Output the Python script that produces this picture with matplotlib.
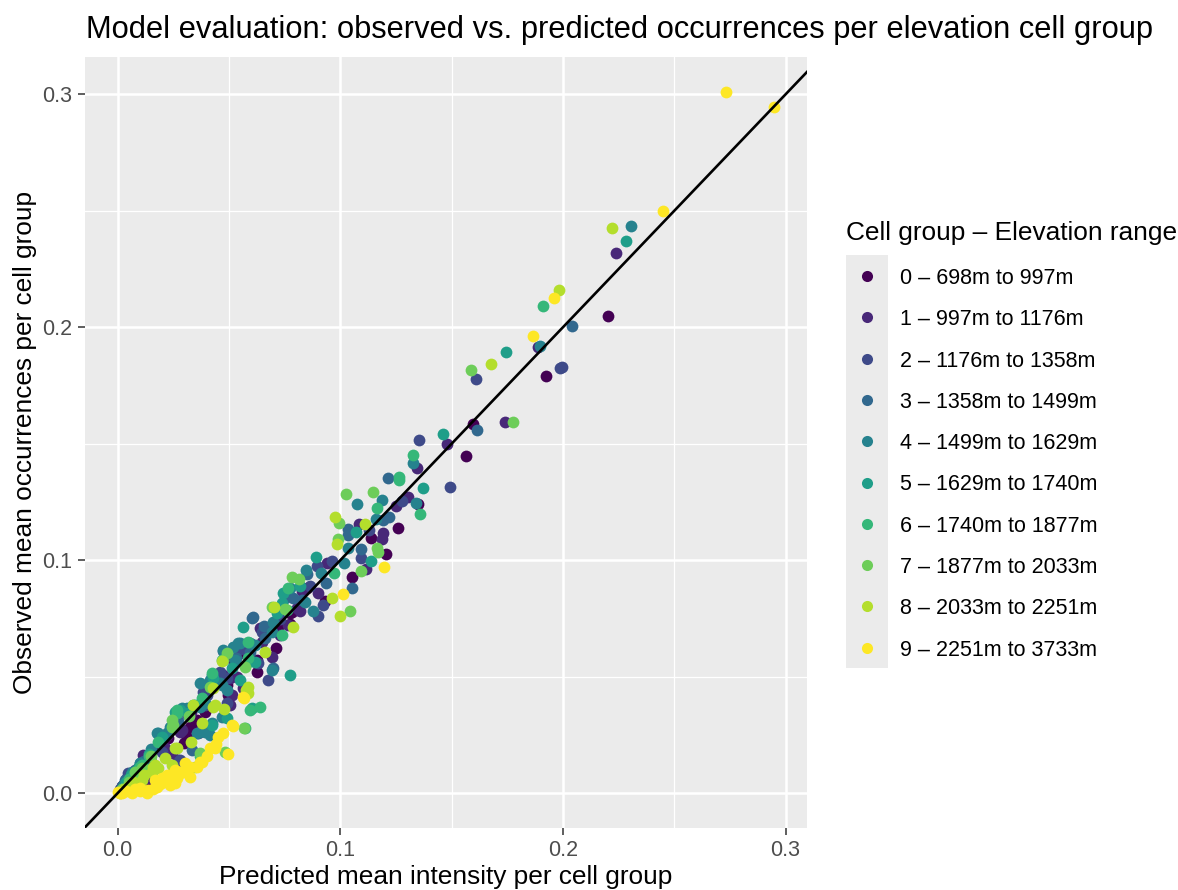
import numpy as np
import matplotlib
matplotlib.use("Agg")
import matplotlib.pyplot as plt
from matplotlib.patches import Rectangle

plt.rcParams['font.family'] = ['Liberation Sans', 'DejaVu Sans']

# observed vs predicted, one pair of lists per elevation group
g0_x = [0.2204, 0.1923, 0.1598, 0.1565, 0.1351, 0.1260, 0.1140, 0.1206, 0.1052, 0.0932,
        0.0782, 0.0775, 0.0722, 0.0712, 0.0628, 0.0625, 0.0490, 0.0438, 0.0340, 0.0311,
        0.0311, 0.0348, 0.0228, 0.0146, 0.0138, 0.0041, 0.0146, 0.0034, 0.0010, 0.0020,
        0.0060, 0.0090, 0.0170, 0.0260, 0.0390, 0.0550, 0.0660, 0.0850, 0.0775, 0.0445,
        0.0498, 0.0393, 0.0326, 0.0356, 0.0300, 0.0041, 0.0030, 0.0080, 0.0120]
g0_y = [0.2050, 0.1792, 0.1585, 0.1446, 0.1242, 0.1140, 0.1094, 0.1026, 0.0930, 0.0825,
        0.0779, 0.0773, 0.0715, 0.0622, 0.0522, 0.0572, 0.0465, 0.0508, 0.0286, 0.0243,
        0.0221, 0.0300, 0.0236, 0.0150, 0.0057, 0.0036, 0.0143, 0.0043, 0.0010, 0.0030,
        0.0070, 0.0100, 0.0190, 0.0280, 0.0430, 0.0600, 0.0690, 0.0880, 0.0725, 0.0500,
        0.0422, 0.0350, 0.0286, 0.0315, 0.0215, 0.0050, 0.0040, 0.0090, 0.0130]

g1_x = [0.2237, 0.1887, 0.1739, 0.1478, 0.1346, 0.1252, 0.1304, 0.1086, 0.1194, 0.1189,
        0.1116, 0.0902, 0.0819, 0.0640, 0.0767, 0.0730, 0.0692, 0.0475, 0.0535, 0.0513,
        0.0505, 0.0520, 0.0221, 0.0071, 0.0116, 0.0243, 0.0281, 0.0213, 0.0138, 0.0273,
        0.0020, 0.0040, 0.0110, 0.0330, 0.0420, 0.0600, 0.0830, 0.0940, 0.0805, 0.0648,
        0.0505, 0.0565, 0.0290, 0.0060, 0.0090]
g1_y = [0.2318, 0.1914, 0.1592, 0.1499, 0.1395, 0.1233, 0.1273, 0.1156, 0.1116, 0.1090,
        0.0961, 0.0858, 0.0784, 0.0708, 0.0722, 0.0679, 0.0586, 0.0508, 0.0500, 0.0422,
        0.0379, 0.0572, 0.0250, 0.0036, 0.0164, 0.0172, 0.0264, 0.0193, 0.0064, 0.0143,
        0.0020, 0.0050, 0.0120, 0.0350, 0.0460, 0.0640, 0.0870, 0.0990, 0.0794, 0.0651,
        0.0494, 0.0451, 0.0270, 0.0080, 0.0110]

g2_x = [0.1611, 0.1995, 0.1987, 0.1355, 0.1493, 0.1276, 0.1128, 0.0894, 0.0965, 0.1093,
        0.0864, 0.0902, 0.0924, 0.0648, 0.0542, 0.0677, 0.0401, 0.0490, 0.0363, 0.0393,
        0.0490, 0.0276, 0.0049, 0.0281, 0.0010, 0.0080, 0.0150, 0.0310, 0.0580, 0.0730,
        0.0632, 0.0460, 0.0385, 0.0198, 0.0040, 0.0110]
g2_y = [0.1778, 0.1830, 0.1825, 0.1516, 0.1316, 0.1254, 0.1130, 0.0976, 0.0997, 0.1009,
        0.0891, 0.0761, 0.0808, 0.0694, 0.0615, 0.0486, 0.0422, 0.0386, 0.0258, 0.0379,
        0.0494, 0.0139, 0.0086, 0.0143, 0.0020, 0.0100, 0.0180, 0.0340, 0.0610, 0.0750,
        0.0558, 0.0522, 0.0436, 0.0179, 0.0060, 0.0130]

g3_x = [0.2042, 0.1616, 0.1213, 0.1220, 0.1194, 0.1034, 0.1034, 0.1093, 0.0935, 0.1054,
        0.0789, 0.0610, 0.0752, 0.0603, 0.0595, 0.0700, 0.0472, 0.0191, 0.0370, 0.0034,
        0.0086, 0.0020, 0.0120, 0.0270, 0.0410, 0.0530, 0.0660, 0.0850, 0.0662, 0.0827,
        0.0336, 0.0060, 0.0140]
g3_y = [0.2006, 0.1559, 0.1355, 0.1187, 0.1173, 0.1134, 0.1109, 0.1047, 0.0901, 0.0880,
        0.0839, 0.0758, 0.0837, 0.0751, 0.0608, 0.0536, 0.0612, 0.0229, 0.0264, 0.0057,
        0.0093, 0.0030, 0.0140, 0.0310, 0.0470, 0.0580, 0.0720, 0.0940, 0.0665, 0.0830,
        0.0186, 0.0080, 0.0170]

g4_x = [0.2306, 0.1895, 0.1326, 0.1075, 0.1189, 0.1340, 0.1161, 0.1034, 0.1017, 0.0912,
        0.0845, 0.0879, 0.0842, 0.0775, 0.0700, 0.0692, 0.0550, 0.0617, 0.0475, 0.0528,
        0.0370, 0.0460, 0.0393, 0.0415, 0.0311, 0.0468, 0.0520, 0.0176, 0.0356, 0.0064,
        0.0370, 0.0423, 0.0010, 0.0100, 0.0220, 0.0595, 0.0542, 0.0692, 0.0415, 0.0490,
        0.0423, 0.0468, 0.0288, 0.0236, 0.0393, 0.0183, 0.0101, 0.0030, 0.0070, 0.0150]
g4_y = [0.2436, 0.1920, 0.1416, 0.1240, 0.1259, 0.1247, 0.1176, 0.1052, 0.0990, 0.0947,
        0.0958, 0.0784, 0.0822, 0.0880, 0.0736, 0.0694, 0.0644, 0.0636, 0.0615, 0.0572,
        0.0472, 0.0472, 0.0386, 0.0250, 0.0365, 0.0465, 0.0629, 0.0258, 0.0258, 0.0093,
        0.0372, 0.0508, 0.0010, 0.0130, 0.0260, 0.0644, 0.0644, 0.0529, 0.0486, 0.0443,
        0.0300, 0.0329, 0.0365, 0.0286, 0.0264, 0.0258, 0.0129, 0.0040, 0.0090, 0.0190]

g5_x = [0.2285, 0.1743, 0.1462, 0.1373, 0.1071, 0.0891, 0.1140, 0.0819, 0.0744, 0.0715,
        0.0737, 0.0565, 0.0513, 0.0617, 0.0775, 0.0603, 0.0490, 0.0423, 0.0258, 0.0430,
        0.0587, 0.0281, 0.0318, 0.0010, 0.0060, 0.0140, 0.0200, 0.0550, 0.0348, 0.0040,
        0.0090]
g5_y = [0.2370, 0.1893, 0.1541, 0.1312, 0.1123, 0.1015, 0.0998, 0.0891, 0.0858, 0.0773,
        0.0815, 0.0715, 0.0536, 0.0565, 0.0508, 0.0365, 0.0322, 0.0293, 0.0350, 0.0494,
        0.0565, 0.0358, 0.0343, 0.0010, 0.0080, 0.0170, 0.0240, 0.0486, 0.0379, 0.0050,
        0.0110]

g6_x = [0.1911, 0.1327, 0.1264, 0.1264, 0.1164, 0.1358, 0.0972, 0.0767, 0.0760, 0.0587,
        0.0423, 0.0640, 0.0573, 0.0595, 0.0468, 0.0183, 0.0101, 0.0340, 0.0266, 0.0020,
        0.0050, 0.0140, 0.0380, 0.0737, 0.0587, 0.0370, 0.0266, 0.0080, 0.0110]
g6_y = [0.2093, 0.1453, 0.1359, 0.1345, 0.1224, 0.1197, 0.0947, 0.0880, 0.0787, 0.0651,
        0.0515, 0.0372, 0.0282, 0.0358, 0.0572, 0.0221, 0.0114, 0.0379, 0.0358, 0.0020,
        0.0060, 0.0160, 0.0410, 0.0679, 0.0579, 0.0160, 0.0343, 0.0090, 0.0120]

g7_x = [0.1589, 0.1777, 0.1026, 0.1146, 0.0993, 0.0991, 0.1164, 0.1171, 0.1093, 0.0782,
        0.0815, 0.1044, 0.0752, 0.0692, 0.0475, 0.0573, 0.0243, 0.0415, 0.0251, 0.0370,
        0.0243, 0.0569, 0.0020, 0.0080, 0.0150, 0.0320, 0.0490, 0.0131, 0.0483, 0.0050,
        0.0110]
g7_y = [0.1817, 0.1595, 0.1285, 0.1292, 0.1161, 0.1090, 0.1052, 0.1037, 0.0955, 0.0930,
        0.0920, 0.0782, 0.0790, 0.0801, 0.0572, 0.0543, 0.0286, 0.0458, 0.0293, 0.0172,
        0.0315, 0.0279, 0.0020, 0.0090, 0.0160, 0.0330, 0.0601, 0.0100, 0.0179, 0.0050,
        0.0110]

g8_x = [0.2222, 0.1981, 0.1676, 0.0978, 0.1111, 0.0984, 0.0962, 0.1000, 0.0703, 0.0789,
        0.0662, 0.0430, 0.0587, 0.0587, 0.0438, 0.0340, 0.0258, 0.0154, 0.0109, 0.0243,
        0.0183, 0.0577, 0.0430, 0.0266, 0.0161, 0.0071, 0.0010, 0.0030, 0.0050, 0.0330,
        0.0380, 0.0480, 0.0468, 0.0213, 0.0348, 0.0070, 0.0120, 0.0170]
g8_y = [0.2425, 0.2159, 0.1841, 0.1187, 0.1156, 0.1069, 0.0837, 0.0762, 0.0801, 0.0715,
        0.0608, 0.0451, 0.0458, 0.0429, 0.0379, 0.0379, 0.0193, 0.0093, 0.0057, 0.0121,
        0.0107, 0.0443, 0.0372, 0.0193, 0.0114, 0.0043, 0.0000, 0.0020, 0.0030, 0.0220,
        0.0300, 0.0360, 0.0568, 0.0150, 0.0114, 0.0050, 0.0080, 0.0120]

g9_x = [0.2734, 0.2948, 0.2448, 0.1961, 0.1866, 0.1198, 0.1011, 0.0565, 0.0517, 0.0475,
        0.0326, 0.0296, 0.0266, 0.0236, 0.0206, 0.0176, 0.0138, 0.0101, 0.0064, 0.0011,
        0.0000, 0.0131, 0.0326, 0.0281, 0.0370, 0.0303, 0.0168, 0.0221, 0.0513, 0.0498,
        0.0453, 0.0568, 0.0415, 0.0311, 0.0258, 0.0221, 0.0356, 0.0281, 0.0040, 0.0080,
        0.0190, 0.0400, 0.0440, 0.0198, 0.0258, 0.0378, 0.0438, 0.0020, 0.0100, 0.0160]
g9_y = [0.3009, 0.2944, 0.2500, 0.2124, 0.1961, 0.0973, 0.0855, 0.0415, 0.0289, 0.0258,
        0.0114, 0.0093, 0.0064, 0.0036, 0.0050, 0.0028, 0.0014, 0.0021, 0.0000, 0.0000,
        0.0007, 0.0000, 0.0071, 0.0086, 0.0136, 0.0129, 0.0057, 0.0071, 0.0293, 0.0167,
        0.0243, 0.0408, 0.0193, 0.0100, 0.0043, 0.0079, 0.0114, 0.0093, 0.0010, 0.0020,
        0.0040, 0.0160, 0.0210, 0.0064, 0.0100, 0.0136, 0.0193, 0.0000, 0.0010, 0.0020]

group_x = [g0_x, g1_x, g2_x, g3_x, g4_x, g5_x, g6_x, g7_x, g8_x, g9_x]
group_y = [g0_y, g1_y, g2_y, g3_y, g4_y, g5_y, g6_y, g7_y, g8_y, g9_y]
group_labels = ["0 – 698m to 997m", "1 – 997m to 1176m", "2 – 1176m to 1358m",
                "3 – 1358m to 1499m", "4 – 1499m to 1629m", "5 – 1629m to 1740m",
                "6 – 1740m to 1877m", "7 – 1877m to 2033m", "8 – 2033m to 2251m",
                "9 – 2251m to 3733m"]
colors = ['#440154', '#482878', '#3E4A89', '#31688E', '#26828E',
          '#1F9E89', '#35B779', '#6DCD59', '#B4DE2C', '#FDE725']

W, H = 1178, 890
fig = plt.figure(figsize=(W / 100, H / 100), dpi=100)
ax = fig.add_axes([85 / W, 1 - 828 / H, (807 - 85) / W, (828 - 57) / H])
ax.set_facecolor('#EBEBEB')
for s in ax.spines.values():
    s.set_visible(False)

for gx, gy, c in zip(group_x, group_y, colors):
    ax.scatter(gx, gy, s=72, color=c, linewidths=0, zorder=2)
ax.axline((0, 0), slope=1, color='black', lw=1.9, zorder=3)

ax.set_xlim(-0.0146, 0.3096)
ax.set_ylim(-0.0149, 0.316)
ticks = [0.0, 0.1, 0.2, 0.3]
tick_labels = ['0.0', '0.1', '0.2', '0.3']
ax.set_xticks(ticks, tick_labels)
ax.set_yticks(ticks, tick_labels)
ax.set_xticks([0.05, 0.15, 0.25], minor=True)
ax.set_yticks([0.05, 0.15, 0.25], minor=True)
ax.grid(which='major', color='white', lw=1.8)
ax.grid(which='minor', color='white', lw=0.9)
ax.set_axisbelow(True)
ax.tick_params(which='major', length=4.8, width=1.1, color='#333333',
               labelsize=15.5, labelcolor='#4D4D4D')
ax.tick_params(axis='x', pad=4)
ax.tick_params(axis='y', pad=4.5)
ax.tick_params(which='minor', length=0)

fig.text(86 / W, 1 - 38 / H, 'Model evaluation: observed vs. predicted occurrences per elevation cell group',
         fontsize=22.2, ha='left', va='baseline')
fig.text(446 / W, 1 - 877 / H, 'Predicted mean intensity per cell group',
         fontsize=18.9, ha='center', va='center')
fig.text(25 / W, 1 - 442 / H, 'Observed mean occurrences per cell group',
         fontsize=18.9, ha='center', va='center', rotation=90)

# legend drawn in pixel space
lax = fig.add_axes([0, 0, 1, 1])
lax.set_xlim(0, W)
lax.set_ylim(H, 0)
lax.axis('off')
lax.add_patch(Rectangle((846, 255), 42, 413, color='#EBEBEB', lw=0))
lax.text(846, 240, 'Cell group – Elevation range', fontsize=18.9, ha='left', va='baseline')
for i, (lab, c) in enumerate(zip(group_labels, colors)):
    yk = 276 + i * 41.3
    lax.scatter([866.7], [yk], s=64, color=c, linewidths=0)
    lax.text(900, yk + 8, lab, fontsize=15.5, ha='left', va='baseline')

fig.savefig('out.png', dpi=100)
